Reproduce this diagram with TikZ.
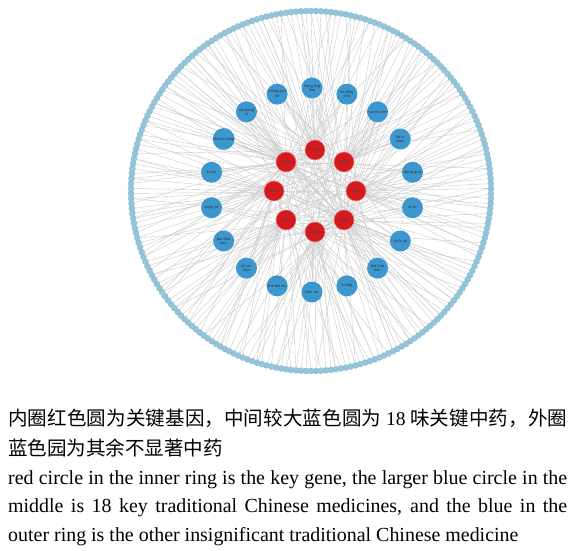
\documentclass[tikz,border=0pt]{standalone}
\usepackage{fontspec}
\setmainfont{Liberation Serif}
\newfontfamily\cjk{Noto Sans CJK SC}
\newfontfamily\lab{Liberation Sans}
\pgfdeclarelayer{bg}
\pgfsetlayers{bg,main}
\definecolor{gene}{HTML}{D41A1F}
\definecolor{geneline}{HTML}{E87878}
\definecolor{herb}{HTML}{3C97CF}
\definecolor{outerfill}{HTML}{95C5DA}
\definecolor{outerline}{HTML}{7FB2C9}
\definecolor{edge}{HTML}{CBCBCB}
\tikzset{
 genenode/.style={circle,fill=gene,draw=geneline,line width=0.6bp,minimum size=20bp,inner sep=0,font=\lab\fontsize{3.6}{4}\selectfont,text=black!75},
 herbnode/.style={circle,fill=herb,draw=none,minimum size=21bp,inner sep=0,font=\lab\fontsize{4}{4.6}\selectfont,align=center,text=black!80},
 outernode/.style={circle,fill=outerfill,draw=outerline,line width=0.3bp,minimum size=6bp,inner sep=0},
 link/.style={draw=edge,line width=0.4bp},
}
\begin{document}
\begin{tikzpicture}[x=1bp,y=-1bp]
\useasboundingbox (0,0) rectangle (569,551);
% outer ring of other herbs
\foreach \i in {0,...,225} {
  \pgfmathsetmacro\a{90-\i*1.5929204}
  \node[outernode] (o\i) at ({311+180*cos(\a)},{191-180*sin(\a)}) {};
}
% inner ring of key genes
\foreach \n [count=\k from 0] in {PTGS1,ADRB2,NOS2,ESR2,PTGS2,ESR1,NCOA2,SCN5A} {
  \pgfmathsetmacro\a{90-45*\k}
  \node[genenode] (g\k) at ({315+41*cos(\a)},{191-41*sin(\a)}) {\n};
}
% middle ring of key herbs
\foreach \n [count=\k from 0] in {{hong jing\\ tian},{ku ding\\ cha},{huo ma ren},{tai zi\\ shen},{dong gua},{ai ye},{da fu pi},{bai hua\\ lian},{fu ling},{ban xia},{zhe bei mu},{jin yin\\ hua},{bai dou\\ kou},{sang ye},{lu hui},{chuan xiong},{niu bang\\ zi},{mang guo\\ he}} {
  \pgfmathsetmacro\a{90-20*\k}
  \node[herbnode] (h\k) at ({312+102*cos(\a)},{190-102*sin(\a)}) {\n};
}
\begin{pgfonlayer}{bg}
\foreach \i in {0,...,225} {
  \pgfmathtruncatemacro\ga{mod(round(\i*1.5929204/45)+mod(\i,2)*mod(\i,5),8)}
  \draw[link] (o\i) -- (g\ga);
  \pgfmathtruncatemacro\t{mod(\i,4)}
  \ifnum\t=0
    \pgfmathtruncatemacro\gb{mod(\i*5+3,8)}
    \draw[link] (o\i) -- (g\gb);
  \fi
}
\foreach \k in {0,...,17} {
  \pgfmathtruncatemacro\ga{mod(\k,8)}
  \pgfmathtruncatemacro\gb{mod(\k+3,8)}
  \pgfmathtruncatemacro\gc{mod(\k*3+5,8)}
  \draw[link] (h\k) -- (g\ga);
  \draw[link] (h\k) -- (g\gb);
  \draw[link] (h\k) -- (g\gc);
}
\end{pgfonlayer}
% caption
\node[anchor=base west,inner sep=0,text width=559bp,align=justify,font=\cjk\fontsize{19.6}{31}\selectfont] (cn) at (8,425) {\XeTeXlinebreaklocale "zh"\XeTeXlinebreakskip=0pt plus 1pt 内圈红色圆为关键基因，中间较大蓝色圆为 {\rmfamily 18} 味关键中药，外圈\linebreak 蓝色园为其余不显著中药};
\node[anchor=base west,inner sep=0,text width=559bp,align=justify,font=\fontsize{20}{29}\selectfont] (en) at (8,484) {red circle in the inner ring is the key gene, the larger blue circle in the\linebreak middle is 18 key traditional Chinese medicines, and the blue in the\linebreak outer ring is the other insignificant traditional Chinese medicine};
\end{tikzpicture}
\end{document}
